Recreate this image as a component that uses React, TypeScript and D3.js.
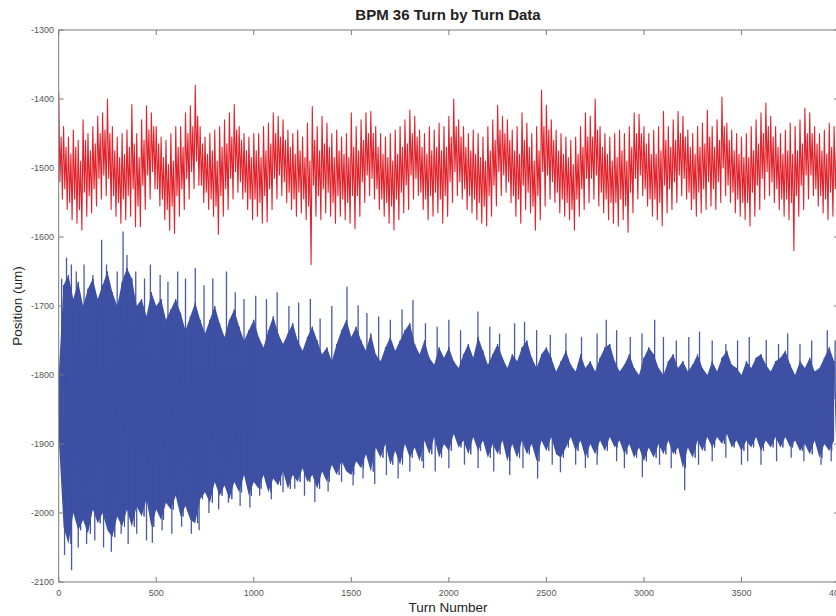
import React from "react";
import * as d3 from "d3";

// Turn-by-turn data, per 25-turn bin (um).
// Red (upper plane): extreme peak, core trough, core peak, extreme trough in each bin.
const turnStep = 25;

const redHi = [
  -1390, -1440, -1455, -1445, -1460, -1430, -1450, -1440, -1425, -1420,
  -1400, -1440, -1455, -1450, -1445, -1408, -1450, -1430, -1410, -1420,
  -1440, -1455, -1460, -1450, -1440, -1440, -1420, -1410, -1380, -1440,
  -1455, -1450, -1445, -1440, -1430, -1420, -1408, -1440, -1450, -1455,
  -1450, -1450, -1440, -1435, -1420, -1425, -1430, -1445, -1450, -1445,
  -1455, -1435, -1411, -1440, -1425, -1435, -1450, -1445, -1455, -1450,
  -1420, -1440, -1430, -1420, -1418, -1440, -1450, -1455, -1450, -1445,
  -1440, -1430, -1416, -1425, -1445, -1450, -1440, -1445, -1435, -1440,
  -1425, -1400, -1430, -1440, -1450, -1445, -1450, -1455, -1440, -1430,
  -1409, -1425, -1430, -1445, -1440, -1420, -1435, -1450, -1440, -1387,
  -1409, -1430, -1445, -1450, -1455, -1460, -1455, -1440, -1420, -1425,
  -1400, -1440, -1450, -1455, -1450, -1445, -1450, -1440, -1420, -1422,
  -1440, -1450, -1445, -1440, -1418, -1440, -1430, -1418, -1425, -1445,
  -1450, -1440, -1435, -1416, -1440, -1430, -1397, -1435, -1445, -1450,
  -1455, -1450, -1440, -1430, -1420, -1406, -1425, -1440, -1450, -1445,
  -1435, -1440, -1430, -1413, -1420, -1440, -1450, -1445, -1435, -1440,
];

const redLo = [
  -1545, -1560, -1575, -1580, -1590, -1570, -1565, -1555, -1545, -1540,
  -1560, -1570, -1580, -1575, -1570, -1585, -1585, -1560, -1545, -1530,
  -1555, -1575, -1590, -1595, -1570, -1560, -1545, -1530, -1525, -1550,
  -1560, -1570, -1596, -1570, -1560, -1545, -1535, -1545, -1560, -1575,
  -1570, -1580, -1578, -1560, -1545, -1540, -1550, -1560, -1570, -1565,
  -1575, -1640, -1570, -1575, -1565, -1570, -1580, -1570, -1575, -1580,
  -1588, -1570, -1550, -1540, -1545, -1560, -1570, -1580, -1590, -1575,
  -1565, -1560, -1545, -1540, -1560, -1575, -1570, -1565, -1580, -1570,
  -1550, -1540, -1545, -1560, -1565, -1575, -1580, -1584, -1570, -1555,
  -1540, -1535, -1550, -1570, -1580, -1560, -1565, -1590, -1575, -1555,
  -1545, -1550, -1565, -1570, -1575, -1590, -1570, -1560, -1550, -1545,
  -1555, -1565, -1575, -1580, -1584, -1575, -1593, -1565, -1545, -1540,
  -1555, -1570, -1575, -1584, -1565, -1560, -1550, -1540, -1545, -1560,
  -1570, -1565, -1560, -1555, -1560, -1550, -1540, -1550, -1565, -1570,
  -1575, -1584, -1570, -1560, -1545, -1540, -1550, -1560, -1570, -1575,
  -1620, -1570, -1560, -1545, -1540, -1555, -1565, -1575, -1570, -1560,
];

const redCoreHi = [
  -1455, -1470, -1480, -1470, -1490, -1460, -1475, -1465, -1450, -1445,
  -1450, -1475, -1485, -1480, -1470, -1465, -1485, -1460, -1445, -1440,
  -1465, -1485, -1495, -1490, -1470, -1470, -1450, -1440, -1425, -1465,
  -1480, -1475, -1490, -1470, -1465, -1455, -1445, -1460, -1475, -1485,
  -1475, -1485, -1475, -1465, -1450, -1455, -1460, -1470, -1480, -1475,
  -1485, -1490, -1460, -1475, -1465, -1470, -1485, -1475, -1480, -1485,
  -1470, -1475, -1460, -1450, -1450, -1470, -1480, -1485, -1490, -1480,
  -1470, -1465, -1450, -1455, -1470, -1480, -1475, -1470, -1475, -1470,
  -1455, -1440, -1455, -1470, -1475, -1480, -1485, -1490, -1475, -1460,
  -1445, -1450, -1460, -1475, -1480, -1460, -1470, -1490, -1475, -1440,
  -1445, -1460, -1475, -1480, -1485, -1495, -1480, -1470, -1455, -1455,
  -1445, -1470, -1480, -1490, -1485, -1475, -1490, -1470, -1450, -1450,
  -1465, -1480, -1480, -1475, -1460, -1470, -1460, -1450, -1455, -1470,
  -1480, -1470, -1465, -1455, -1470, -1460, -1440, -1460, -1475, -1480,
  -1485, -1485, -1475, -1465, -1450, -1440, -1455, -1470, -1480, -1475,
  -1480, -1475, -1465, -1450, -1450, -1465, -1475, -1480, -1470, -1470,
];

const redCoreLo = [
  -1520, -1530, -1550, -1545, -1560, -1535, -1540, -1530, -1515, -1510,
  -1515, -1540, -1550, -1545, -1540, -1530, -1555, -1525, -1510, -1505,
  -1530, -1545, -1560, -1555, -1540, -1530, -1515, -1505, -1490, -1525,
  -1535, -1545, -1555, -1540, -1530, -1515, -1505, -1520, -1535, -1545,
  -1545, -1550, -1540, -1530, -1515, -1510, -1520, -1535, -1545, -1535,
  -1545, -1555, -1525, -1540, -1530, -1535, -1550, -1540, -1545, -1550,
  -1540, -1540, -1520, -1510, -1515, -1530, -1545, -1550, -1555, -1545,
  -1535, -1525, -1510, -1515, -1535, -1545, -1540, -1535, -1545, -1540,
  -1520, -1505, -1520, -1530, -1540, -1545, -1550, -1555, -1540, -1525,
  -1505, -1510, -1520, -1540, -1545, -1525, -1535, -1555, -1540, -1505,
  -1510, -1520, -1535, -1545, -1550, -1560, -1545, -1530, -1515, -1515,
  -1510, -1535, -1545, -1550, -1550, -1545, -1555, -1535, -1515, -1510,
  -1530, -1545, -1545, -1550, -1525, -1530, -1520, -1510, -1515, -1535,
  -1545, -1535, -1530, -1520, -1530, -1520, -1500, -1525, -1535, -1545,
  -1550, -1550, -1535, -1525, -1515, -1505, -1520, -1530, -1545, -1545,
  -1550, -1540, -1525, -1510, -1510, -1530, -1540, -1545, -1535, -1530,
];

// Blue (lower plane): dense band top / bottom per 25-turn bin
const blueHi = [
  -1800, -1670, -1655, -1690, -1665, -1700, -1675, -1660, -1690, -1670,
  -1650, -1680, -1700, -1665, -1645, -1660, -1700, -1690, -1715, -1680,
  -1700, -1690, -1720, -1705, -1690, -1710, -1735, -1715, -1695, -1720,
  -1740, -1720, -1700, -1725, -1745, -1720, -1705, -1730, -1750, -1735,
  -1720, -1745, -1760, -1735, -1715, -1740, -1755, -1740, -1725, -1750,
  -1765, -1745, -1730, -1750, -1770, -1760, -1780, -1755, -1735, -1720,
  -1745, -1730, -1750, -1765, -1740, -1770, -1780, -1760, -1745, -1765,
  -1750, -1735, -1725, -1755, -1770, -1750, -1775, -1785, -1760, -1775,
  -1760, -1780, -1790, -1770, -1755, -1775, -1745, -1765, -1785, -1770,
  -1755, -1775, -1790, -1770, -1780, -1760, -1750, -1775, -1790, -1770,
  -1760, -1775, -1795, -1780, -1765, -1785, -1795, -1770, -1790, -1780,
  -1795, -1775, -1760, -1755, -1780, -1795, -1785, -1770, -1790, -1800,
  -1775, -1760, -1770, -1790, -1800, -1780, -1770, -1790, -1780, -1795,
  -1785, -1770, -1790, -1800, -1780, -1795, -1775, -1765, -1785, -1790,
  -1800, -1780, -1790, -1775, -1770, -1785, -1795, -1780, -1775, -1765,
  -1785, -1800, -1780, -1790, -1775, -1795, -1790, -1775, -1760, -1780,
];

const blueLo = [
  -1890, -2020, -2045, -2000, -2025, -2010, -2030, -1995, -2015, -2000,
  -2025, -2035, -2005, -2020, -1995, -2020, -1990, -2005, -1980, -2020,
  -1995, -2010, -1985, -1995, -1975, -2005, -1990, -2010, -2015, -1980,
  -1970, -1985, -1955, -1975, -1960, -1980, -1955, -1970, -1945, -1975,
  -1955, -1965, -1945, -1970, -1950, -1960, -1940, -1965, -1945, -1955,
  -1935, -1955, -1945, -1965, -1940, -1955, -1930, -1945, -1925, -1940,
  -1945, -1925, -1935, -1915, -1940, -1905, -1920, -1900, -1930, -1910,
  -1930, -1900, -1920, -1905, -1925, -1895, -1915, -1890, -1920, -1900,
  -1910, -1885, -1905, -1895, -1915, -1890, -1910, -1895, -1920, -1900,
  -1915, -1895, -1925, -1900, -1920, -1895, -1915, -1900, -1925, -1895,
  -1910, -1890, -1915, -1920, -1905, -1890, -1910, -1895, -1920, -1900,
  -1915, -1895, -1910, -1890, -1905, -1895, -1915, -1900, -1920, -1905,
  -1925, -1905, -1920, -1900, -1915, -1895, -1915, -1905, -1935, -1905,
  -1920, -1895, -1910, -1890, -1905, -1890, -1900, -1885, -1905, -1895,
  -1910, -1895, -1905, -1890, -1910, -1895, -1905, -1890, -1905, -1890,
  -1905, -1895, -1910, -1900, -1915, -1895, -1920, -1900, -1910, -1895,
];

// Blue single-turn spikes beyond the dense band: [turn, position]
const blueSpikesUp: [number, number][] = [
  [15, -1660], [40, -1630], [65, -1640], [90, -1650], [130, -1640], [175, -1655],
  [220, -1604], [245, -1640], [300, -1650], [330, -1592], [350, -1626], [395, -1650],
  [440, -1660], [470, -1640], [520, -1655], [560, -1665], [610, -1650], [650, -1660],
  [700, -1645], [745, -1670], [790, -1660], [860, -1650], [905, -1680], [950, -1690],
  [1010, -1685], [1065, -1690], [1120, -1680], [1180, -1700], [1230, -1695], [1290, -1690],
  [1340, -1718], [1400, -1700], [1478, -1672], [1535, -1699], [1580, -1710], [1640, -1715],
  [1700, -1720], [1760, -1705], [1816, -1691], [1880, -1725], [1940, -1730], [2000, -1720],
  [2060, -1735], [2149, -1708], [2210, -1730], [2260, -1740], [2337, -1725], [2388, -1723],
  [2450, -1735], [2520, -1742], [2600, -1740], [2680, -1745], [2760, -1740], [2807, -1720],
  [2860, -1735], [2930, -1745], [2990, -1740], [3055, -1720], [3100, -1745], [3166, -1750],
  [3230, -1745], [3285, -1737], [3350, -1750], [3420, -1755], [3480, -1750], [3540, -1745],
  [3627, -1749], [3690, -1755], [3737, -1740], [3800, -1755], [3860, -1750], [3940, -1735],
  [3980, -1750],
];

const blueSpikesDown: [number, number][] = [
  [30, -2061], [66, -2083], [100, -2050], [143, -2045], [185, -2040], [230, -2050],
  [270, -2056], [320, -2030], [356, -2045], [400, -2030], [450, -2040], [480, -2043],
  [530, -2025], [580, -2030], [630, -2020], [680, -2030], [720, -2025], [770, -2000],
  [820, -1995], [870, -1985], [930, -1990], [980, -1992], [1030, -1975], [1090, -1980],
  [1150, -1970], [1210, -1965], [1260, -1975], [1313, -1984], [1381, -1969], [1450, -1955],
  [1509, -1960], [1560, -1950], [1620, -1958], [1680, -1945], [1740, -1950], [1800, -1940],
  [1870, -1935], [1930, -1940], [2000, -1935], [2080, -1930], [2150, -1935], [2230, -1940],
  [2312, -1945], [2380, -1935], [2455, -1950], [2530, -1930], [2572, -1941], [2650, -1930],
  [2700, -1935], [2760, -1930], [2860, -1925], [2900, -1935], [2992, -1948], [3080, -1930],
  [3140, -1935], [3209, -1967], [3280, -1930], [3350, -1925], [3420, -1920], [3500, -1930],
  [3532, -1925], [3600, -1930], [3680, -1925], [3755, -1920], [3820, -1925], [3908, -1930],
  [3960, -1925],
];

const blueCenter = -1835;

const xTicks = [0, 500, 1000, 1500, 2000, 2500, 3000, 3500, 4000];
const yTicks = [-1300, -1400, -1500, -1600, -1700, -1800, -1900, -2000, -2100];

const titleText = "BPM 36 Turn by Turn Data";
const xLabel = "Turn Number";
const yLabel = "Position (um)";

export default function App() {
  const W = 836;
  const H = 616;
  const left = 58.7;
  const right = 839;
  const top = 30;
  const bottom = 582;
  const x = d3.scaleLinear().domain([0, 4000]).range([left, right]);
  const y = d3.scaleLinear().domain([-2100, -1300]).range([bottom, top]);
  const q = turnStep / 4;

  const redPts: [number, number][] = [];
  redHi.forEach((h, i) => {
    const t = i * turnStep;
    redPts.push([x(t), y(h)]);
    redPts.push([x(t + q), y(redCoreLo[i])]);
    redPts.push([x(t + 2 * q), y(redCoreHi[i])]);
    redPts.push([x(t + 3 * q), y(redLo[i])]);
  });
  const redPath = d3.line()(redPts) || "";

  const bluePts: [number, number][] = [];
  blueHi.forEach((h, i) => {
    const t = i * turnStep;
    bluePts.push([x(t), y(h)]);
    bluePts.push([x(t + turnStep / 2), y(blueLo[i])]);
  });
  const blueLine = d3.line()(bluePts) || "";
  const blueArea =
    d3
      .area<number>()
      .x((_, i) => x(i * turnStep))
      .y0((_, i) => y(blueLo[i]))
      .y1((d) => y(d))(blueHi) || "";

  const axisColor = "#7a7a7a";
  const font = "'Liberation Sans', Arial, sans-serif";
  const tickLen = 5;
  const blue = "#3d50a3";

  return (
    <svg
      width={W}
      height={H}
      style={{ position: "fixed", left: 0, top: 0, background: "#fff" }}
    >
      <defs>
        <clipPath id="plotclip">
          <rect x={left} y={top} width={right - left} height={bottom - top} />
        </clipPath>
      </defs>
      <rect x={0} y={0} width={W} height={H} fill="#fff" />
      <g clipPath="url(#plotclip)">
        {blueSpikesUp.map(([t, v], i) => (
          <line
            key={"su" + i}
            x1={x(t)}
            x2={x(t)}
            y1={y(blueCenter)}
            y2={y(v)}
            stroke="#4a5aa9"
            strokeWidth={1.3}
          />
        ))}
        {blueSpikesDown.map(([t, v], i) => (
          <line
            key={"sd" + i}
            x1={x(t)}
            x2={x(t)}
            y1={y(blueCenter)}
            y2={y(v)}
            stroke="#4a5aa9"
            strokeWidth={1.3}
          />
        ))}
        <path d={blueArea} fill={blue} stroke="none" />
        <path d={blueLine} fill="none" stroke={blue} strokeWidth={1} />
        <path d={redPath} fill="none" stroke="#e2232c" strokeWidth={1.1} strokeLinejoin="round" />
      </g>
      <rect
        x={left}
        y={top}
        width={right - left}
        height={bottom - top}
        fill="none"
        stroke={axisColor}
        strokeWidth={1}
      />
      {xTicks.map((t) => (
        <g key={"x" + t}>
          <line x1={x(t)} x2={x(t)} y1={bottom} y2={bottom - tickLen} stroke={axisColor} />
          <line x1={x(t)} x2={x(t)} y1={top} y2={top + tickLen} stroke={axisColor} />
          <text x={x(t)} y={596} textAnchor="middle" fontFamily={font} fontSize={9} fill="#555">
            {t}
          </text>
        </g>
      ))}
      {yTicks.map((v) => (
        <g key={"y" + v}>
          <line x1={left} x2={left + tickLen} y1={y(v)} y2={y(v)} stroke={axisColor} />
          <line x1={right} x2={right - tickLen} y1={y(v)} y2={y(v)} stroke={axisColor} />
          <text x={54} y={y(v) + 3} textAnchor="end" fontFamily={font} fontSize={9} fill="#555">
            {v}
          </text>
        </g>
      ))}
      <text
        x={448}
        y={20}
        textAnchor="middle"
        fontFamily={font}
        fontWeight="bold"
        fontSize={15}
        fill="#222"
      >
        {titleText}
      </text>
      <text x={448} y={612} textAnchor="middle" fontFamily={font} fontSize={13.5} fill="#222">
        {xLabel}
      </text>
      <text
        transform={`translate(22,306) rotate(-90)`}
        textAnchor="middle"
        fontFamily={font}
        fontSize={13.5}
        fill="#222"
      >
        {yLabel}
      </text>
    </svg>
  );
}
